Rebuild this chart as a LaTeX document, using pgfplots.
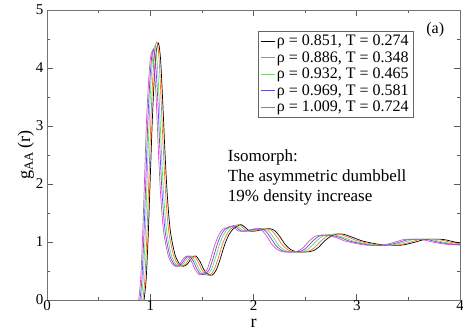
\documentclass[border=0pt]{standalone}
\usepackage{fontspec}
\setmainfont{Liberation Serif}
\usepackage{pgfplots}
\usepackage{pgfplotstable}
\pgfplotsset{compat=1.18}
\definecolor{cOr}{rgb}{0.93,0.47,0.22}
\definecolor{cGr}{rgb}{0.45,0.82,0.45}
\definecolor{cBl}{rgb}{0.38,0.32,0.78}
\definecolor{cPk}{rgb}{0.82,0.32,0.82}
\pgfplotstableread{
xa xb xc xd xe ga gb gc gd ge
0.94 0.928 0.912 0.900 0.888 0 0 0 0 0
0.96 0.947 0.931 0.919 0.907 0.35 0.35 0.35 0.35 0.35
0.98 0.967 0.951 0.938 0.926 1.1 1.1 1.1 1.1 1.1
1.00 0.987 0.970 0.958 0.945 2.1 2.1 2.1 2.1 2.1
1.02 1.006 0.990 0.977 0.964 3.1 3.1 3.1 3.1 3.1
1.04 1.026 1.009 0.996 0.983 3.85 3.87 3.82 3.78 3.74
1.06 1.046 1.028 1.015 1.001 4.30 4.33 4.26 4.21 4.16
1.08 1.066 1.048 1.034 1.020 4.43 4.45 4.38 4.33 4.28
1.10 1.085 1.067 1.053 1.039 4.15 4.17 4.10 4.05 4.00
1.12 1.105 1.087 1.073 1.058 3.45 3.45 3.45 3.45 3.45
1.14 1.125 1.106 1.092 1.077 2.65 2.65 2.65 2.65 2.65
1.16 1.145 1.125 1.111 1.096 1.95 1.95 1.95 1.95 1.95
1.18 1.164 1.145 1.130 1.115 1.45 1.45 1.45 1.45 1.45
1.20 1.184 1.164 1.149 1.134 1.12 1.12 1.12 1.12 1.12
1.24 1.224 1.203 1.187 1.172 0.78 0.78 0.78 0.78 0.78
1.28 1.263 1.242 1.226 1.209 0.63 0.63 0.63 0.63 0.63
1.32 1.302 1.281 1.264 1.247 0.58 0.58 0.58 0.58 0.58
1.36 1.342 1.319 1.302 1.285 0.62 0.62 0.62 0.62 0.62
1.40 1.381 1.358 1.341 1.323 0.72 0.72 0.72 0.72 0.72
1.44 1.421 1.397 1.379 1.361 0.76 0.76 0.76 0.76 0.76
1.48 1.460 1.436 1.417 1.398 0.67 0.67 0.67 0.67 0.67
1.52 1.500 1.475 1.456 1.436 0.52 0.52 0.52 0.52 0.52
1.56 1.539 1.514 1.494 1.474 0.44 0.44 0.44 0.44 0.44
1.60 1.579 1.552 1.532 1.512 0.43 0.43 0.44 0.45 0.46
1.64 1.618 1.591 1.570 1.549 0.52 0.52 0.52 0.52 0.52
1.68 1.658 1.630 1.609 1.587 0.72 0.72 0.72 0.72 0.72
1.72 1.697 1.669 1.647 1.625 0.95 0.95 0.95 0.95 0.95
1.76 1.737 1.708 1.685 1.663 1.12 1.12 1.12 1.12 1.12
1.80 1.776 1.746 1.724 1.701 1.22 1.22 1.22 1.22 1.22
1.85 1.825 1.795 1.772 1.748 1.28 1.28 1.27 1.26 1.25
1.88 1.855 1.824 1.800 1.776 1.30 1.30 1.29 1.28 1.27
1.92 1.895 1.863 1.839 1.814 1.25 1.25 1.25 1.25 1.25
1.96 1.934 1.902 1.877 1.852 1.19 1.19 1.19 1.19 1.19
2.02 1.993 1.960 1.934 1.908 1.19 1.19 1.19 1.19 1.19
2.10 2.072 2.037 2.011 1.984 1.22 1.22 1.22 1.22 1.22
2.16 2.131 2.096 2.068 2.041 1.23 1.23 1.23 1.23 1.23
2.21 2.181 2.144 2.116 2.088 1.19 1.19 1.19 1.19 1.19
2.26 2.230 2.193 2.164 2.135 1.08 1.08 1.08 1.08 1.08
2.31 2.279 2.241 2.212 2.182 0.95 0.95 0.95 0.95 0.95
2.36 2.329 2.290 2.260 2.230 0.87 0.87 0.87 0.87 0.87
2.42 2.388 2.348 2.317 2.286 0.83 0.83 0.83 0.83 0.83
2.52 2.487 2.445 2.413 2.381 0.83 0.83 0.83 0.83 0.83
2.58 2.546 2.503 2.471 2.438 0.85 0.85 0.85 0.85 0.85
2.63 2.595 2.552 2.518 2.485 0.91 0.91 0.91 0.91 0.91
2.69 2.654 2.610 2.576 2.541 1.02 1.02 1.02 1.02 1.02
2.75 2.713 2.668 2.633 2.598 1.10 1.10 1.10 1.10 1.10
2.82 2.783 2.736 2.700 2.664 1.14 1.14 1.13 1.12 1.12
2.88 2.842 2.794 2.758 2.721 1.13 1.13 1.12 1.11 1.11
2.96 2.921 2.872 2.835 2.797 1.08 1.08 1.08 1.08 1.08
3.05 3.009 2.959 2.921 2.882 1.02 1.02 1.02 1.02 1.02
3.15 3.108 3.056 3.016 2.976 0.98 0.98 0.98 0.98 0.98
3.25 3.207 3.153 3.112 3.071 0.95 0.95 0.95 0.95 0.95
3.35 3.305 3.250 3.208 3.165 0.94 0.94 0.94 0.94 0.94
3.45 3.404 3.347 3.304 3.260 0.95 0.95 0.95 0.95 0.95
3.55 3.503 3.444 3.399 3.354 0.99 0.99 0.99 0.99 0.99
3.65 3.602 3.541 3.495 3.449 1.04 1.04 1.04 1.04 1.04
3.75 3.700 3.638 3.591 3.543 1.05 1.05 1.05 1.05 1.05
3.85 3.799 3.735 3.687 3.637 1.04 1.04 1.04 1.04 1.04
3.95 3.898 3.832 3.783 3.732 1.00 1.00 1.00 1.00 1.00
4.05 3.996 3.929 3.878 3.826 0.97 0.97 0.97 0.97 0.97
4.10 4.046 3.978 3.926 3.874 0.96 0.96 0.96 0.96 0.96
4.20 4.144 4.075 4.022 3.968 0.95 0.95 0.95 0.95 0.95
4.30 4.243 4.172 4.118 4.063 0.95 0.95 0.95 0.95 0.95
}\gdata
\begin{document}
\begin{tikzpicture}
\begin{axis}[name=ax, scale only axis, width=413pt, height=290pt,
  xmin=0, xmax=4, ymin=0, ymax=5,
  xtick={0,1,2,3,4}, ytick={0,1,2,3,4,5},
  minor x tick num=1, minor y tick num=1,
  tick align=inside, major tick length=6pt, minor tick length=3pt,
  axis line style={black!55},
  every tick/.style={black!65, line width=0.6pt},
  tick label style={font=\fontsize{15}{15}\selectfont},
  xticklabel style={yshift=3pt},
  /pgf/number format/assume math mode=true,
  xlabel={r}, ylabel={g\textsubscript{AA}\,(r)},
  label style={font=\fontsize{18}{18}\selectfont},
  xlabel style={yshift=-1pt},
  ylabel style={yshift=-5pt},
  legend style={at={(0.886,0.928)}, anchor=north east, draw=black!60,
    font=\fontsize{16}{16}\selectfont, inner sep=2pt, row sep=0.3pt,
    cells={anchor=west}},
  legend image code/.code={\draw[#1] (0pt,0pt) -- (14pt,0pt);},
  every axis plot/.append style={line width=0.7pt, smooth, tension=0.45},
  clip=true]
\addplot[black] table[x=xa, y=ga] {\gdata};
\addplot[cOr] table[x=xb, y=gb] {\gdata};
\addplot[cGr] table[x=xc, y=gc] {\gdata};
\addplot[cBl] table[x=xd, y=gd] {\gdata};
\addplot[cPk] table[x=xe, y=ge] {\gdata};
\legend{{ρ = 0.851, T = 0.274}, {ρ = 0.886, T = 0.348}, {ρ = 0.932, T = 0.465}, {ρ = 0.969, T = 0.581}, {ρ = 1.009, T = 0.724}}
\node[anchor=north west, align=left, inner sep=0pt, font=\fontsize{17}{20}\selectfont] at (axis cs:1.75,2.6) {Isomorph:\\The asymmetric dumbbell\\19\% density increase};
\node[font=\fontsize{16}{16}\selectfont] at (axis cs:3.76,4.66) {(a)};
\end{axis}
\pgfresetboundingbox
\path ([shift={(-47pt,-28pt)}]ax.south west) rectangle ([shift={(3pt,10pt)}]ax.north east);
\end{tikzpicture}
\end{document}
